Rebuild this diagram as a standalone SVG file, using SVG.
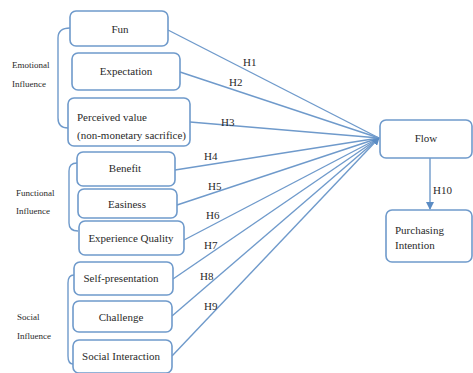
<svg xmlns="http://www.w3.org/2000/svg" width="473" height="373" viewBox="0 0 473 373">
<defs>
<marker id="ah" markerWidth="8" markerHeight="8" refX="7" refY="4" orient="auto" markerUnits="userSpaceOnUse">
<path d="M0,0 L8,4 L0,8 Z" fill="#5b8cc4"/>
</marker>
</defs>
<style>
.box{fill:#fff;stroke:#6f9acb;stroke-width:1.6}
.t{font-family:'Liberation Serif','DejaVu Serif',serif;font-size:11px;fill:#2a2a2a}
.s{font-family:'Liberation Serif','DejaVu Serif',serif;font-size:9px;fill:#2a2a2a}
.c{text-anchor:middle}
.ln{stroke:#6f9acb;stroke-width:1.4;fill:none}
</style>
<rect width="473" height="373" fill="#fff"/>
<g id="brackets">
<path class="ln" d="M70,28 Q58,28 58,38 L58,118 Q58,128 68,128"/>
<path class="ln" d="M77,163 Q69,163 69,171 L69,223 Q69,231 78,231"/>
<path class="ln" d="M74,275 Q68,275 68,283 L68,356 Q68,364 73,364"/>
</g>
<g id="group-labels">
<text class="s" x="12" y="68">Emotional</text>
<text class="s" x="12" y="87">Influence</text>
<text class="s" x="16" y="196">Functional</text>
<text class="s" x="16" y="214">Influence</text>
<text class="s" x="17" y="320">Social</text>
<text class="s" x="17" y="339">Influence</text>
</g>
<g id="connectors">
<line class="ln" x1="168" y1="30" x2="379" y2="138"/>
<line class="ln" x1="180" y1="72" x2="379" y2="138"/>
<line class="ln" x1="190" y1="122" x2="379" y2="138"/>
<line class="ln" x1="175" y1="170" x2="379" y2="138"/>
<line class="ln" x1="177" y1="205" x2="379" y2="138"/>
<line class="ln" x1="184" y1="240" x2="379" y2="138"/>
<line class="ln" x1="173" y1="279" x2="379" y2="138"/>
<line class="ln" x1="172" y1="316" x2="379" y2="138"/>
<line class="ln" x1="172" y1="356" x2="379" y2="138" marker-end="url(#ah)"/>
<line class="ln" x1="430" y1="158" x2="430" y2="209" marker-end="url(#ah)"/>
<text class="t" x="243" y="66">H1</text>
<text class="t" x="229" y="86">H2</text>
<text class="t" x="221" y="126">H3</text>
<text class="t" x="204" y="160">H4</text>
<text class="t" x="208" y="190">H5</text>
<text class="t" x="206" y="219">H6</text>
<text class="t" x="204" y="249">H7</text>
<text class="t" x="200" y="280">H8</text>
<text class="t" x="204" y="310">H9</text>
<text class="t" x="433" y="194">H10</text>
</g>
<g id="fun"><rect class="box" x="70" y="11" width="98" height="35" rx="6"/><text class="t c" x="120" y="33">Fun</text></g>
<g id="expectation"><rect class="box" x="72" y="53" width="108" height="37" rx="6"/><text class="t c" x="126" y="75">Expectation</text></g>
<g id="perceived-value"><rect class="box" x="68" y="98" width="122" height="48" rx="6"/><text class="t" x="77" y="121">Perceived value</text><text class="t" x="77" y="139">(non-monetary sacrifice)</text></g>
<g id="benefit"><rect class="box" x="77" y="152" width="98" height="34" rx="6"/><text class="t c" x="125" y="172">Benefit</text></g>
<g id="easiness"><rect class="box" x="78" y="189" width="99" height="29" rx="6"/><text class="t c" x="127" y="208">Easiness</text></g>
<g id="experience-quality"><rect class="box" x="79" y="221" width="105" height="34" rx="6"/><text class="t c" x="131" y="242">Experience Quality</text></g>
<g id="self-presentation"><rect class="box" x="74" y="262" width="99" height="33" rx="6"/><text class="t c" x="121" y="282">Self-presentation</text></g>
<g id="challenge"><rect class="box" x="73" y="301" width="99" height="31" rx="6"/><text class="t c" x="121" y="321">Challenge</text></g>
<g id="social-interaction"><rect class="box" x="73" y="340" width="99" height="33" rx="6"/><text class="t c" x="121" y="360">Social Interaction</text></g>
<g id="flow"><rect class="box" x="380" y="120" width="92" height="38" rx="6"/><text class="t c" x="426" y="142">Flow</text></g>
<g id="purchasing-intention"><rect class="box" x="386" y="210" width="86" height="52" rx="6"/><text class="t" x="395" y="234">Purchasing</text><text class="t" x="395" y="249">Intention</text></g>
</svg>
